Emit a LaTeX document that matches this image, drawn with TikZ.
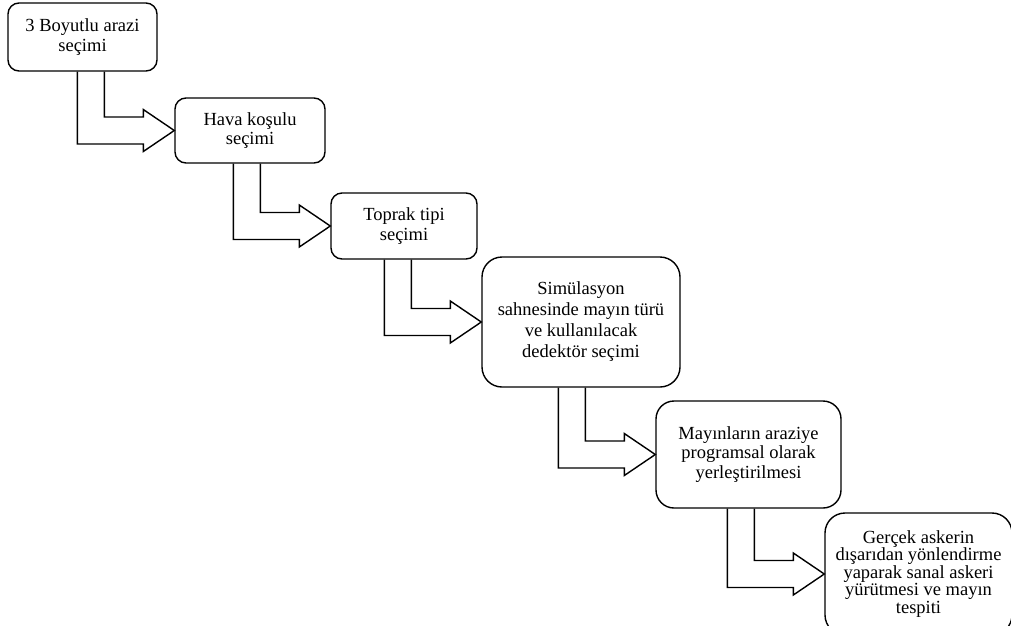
\documentclass[tikz,border=0pt]{standalone}
\usepackage{fontspec}
\setmainfont{Liberation Serif}
\usetikzlibrary{calc}

\tikzset{
  stepbox/.style={draw, line width=1.4pt, rounded corners=11pt, align=center,
    inner sep=0pt, font=\fontsize{18.5}{19.5}\selectfont},
  bigbox/.style={stepbox, rounded corners=20pt},
  blockarrow/.style={draw, line width=1.4pt, line join=miter},
}

\begin{document}
\begin{tikzpicture}[x=1pt, y=-1pt]
  % Sayfa sinirlari
  \useasboundingbox (0,0) rectangle (1011,625);
  \clip (0,0) rectangle (1011,625);

  % Ok olculeri
  \def\outx{97pt}    % dis kenar
  \def\inx{70pt}     % ic kenar
  \def\shaft{13.5pt} % govde yari kalinligi
  \def\headx{31pt}   % uc uzunlugu
  \def\heady{21pt}   % uc yari genisligi

  % Adimlar
  \node[stepbox, minimum width=149pt, minimum height=68pt] (arazi) at (82.5,37)
    {3 Boyutlu arazi\\seçimi};
  \node[stepbox, minimum width=150pt, minimum height=65pt] (hava) at (250,130.5)
    {Hava koşulu\\seçimi};
  \node[stepbox, minimum width=146pt, minimum height=66pt] (toprak) at (404,226)
    {Toprak tipi\\seçimi};
  \node[bigbox, minimum width=198pt, minimum height=130pt] (sahne) at (581,322)
    {Simülasyon\\[1.5pt]sahnesinde mayın türü\\[1.5pt]ve kullanılacak\\[1.5pt]dedektör seçimi};
  \node[bigbox, rounded corners=18pt, minimum width=185pt, minimum height=107pt] (mayin) at (748.5,454.5)
    {Mayınların araziye\\programsal olarak\\yerleştirilmesi};
  \node[bigbox, minimum width=187pt, minimum height=122pt] (asker) at (918.5,574)
    {Gerçek askerin\\[-2pt]dışarıdan yönlendirme\\[-2pt]yaparak sanal askeri\\[-2pt]yürütmesi ve mayın\\[-2pt]tespiti};

  % Basamak oklari
  \foreach \from/\to in {arazi/hava, hava/toprak, toprak/sahne, sahne/mayin, mayin/asker}
    \draw[blockarrow] let \p1=(\to.west), \p2=(\from.south) in
      (\x1-\outx,\y2) -- (\x1-\outx,\y1-\shaft) -- (\x1-\headx,\y1-\shaft)
      -- (\x1-\headx,\y1-\heady) -- (\x1,\y1) -- (\x1-\headx,\y1+\heady)
      -- (\x1-\headx,\y1+\shaft) -- (\x1-\inx,\y1+\shaft) -- (\x1-\inx,\y2);
\end{tikzpicture}
\end{document}
